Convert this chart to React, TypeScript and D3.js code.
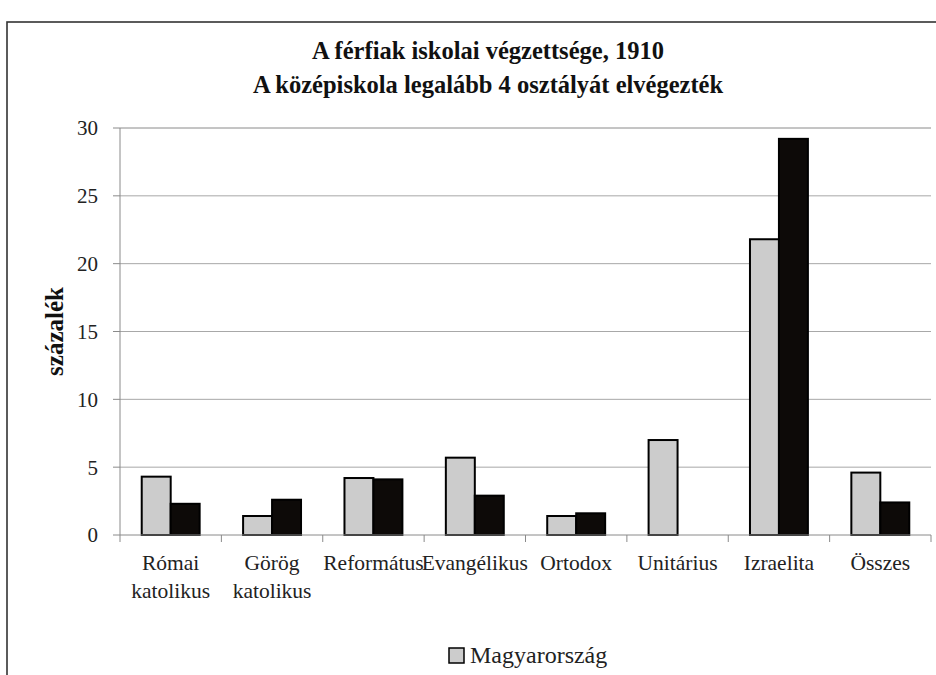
import * as d3 from "d3";

const WIDTH = 936;
const HEIGHT = 675;
const PLOT = { left: 120, right: 931, top: 128, bottom: 535 };

const categories = [
  ["Római", "katolikus"],
  ["Görög", "katolikus"],
  ["Református"],
  ["Evangélikus"],
  ["Ortodox"],
  ["Unitárius"],
  ["Izraelita"],
  ["Összes"],
];
const magyarorszag = [4.3, 1.4, 4.2, 5.7, 1.4, 7.0, 21.8, 4.6];
const budapest = [2.3, 2.6, 4.1, 2.9, 1.6, null, 29.2, 2.4];
const yTicks = [0, 5, 10, 15, 20, 25, 30];
const seriesNames = ["Magyarország", "Budapest"];

const SERIF = "'Liberation Serif', 'DejaVu Serif', serif";

export default function App() {
  const keys = categories.map((c) => c.join(" "));
  const x = d3.scaleBand().domain(keys).range([PLOT.left, PLOT.right]).paddingInner(0).paddingOuter(0);
  // Excel-like gap: bars take ~57% of each category slot
  const inner = d3.scaleBand().domain(seriesNames).range([0, x.bandwidth()]).paddingInner(0).paddingOuter(0.75);
  const y = d3.scaleLinear().domain([0, 30]).range([PLOT.bottom, PLOT.top]);

  const series = [
    { name: seriesNames[0], values: magyarorszag, fill: "#cccccc" },
    { name: seriesNames[1], values: budapest, fill: "#0d0a08" },
  ];

  return (
    <svg
      width={WIDTH}
      height={HEIGHT}
      style={{ position: "absolute", left: 0, top: 0, background: "#fff" }}
      fontFamily={SERIF}
    >
      <rect x={7} y={22} width={WIDTH + 10} height={HEIGHT + 10} fill="#fff" stroke="#333" strokeWidth={1.6} />

      <text x={488} y={59} textAnchor="middle" fontWeight="bold" fontSize={24.5} fill="#111">
        A férfiak iskolai végzettsége, 1910
      </text>
      <text x={488} y={93} textAnchor="middle" fontWeight="bold" fontSize={24.5} fill="#111">
        A középiskola legalább 4 osztályát elvégezték
      </text>

      <g>
        {yTicks.map((t) => (
          <g key={t}>
            {t > 0 && (
              <line x1={PLOT.left} x2={PLOT.right} y1={y(t)} y2={y(t)} stroke={t === 30 ? "#8a8a8a" : "#a8a8a8"} strokeWidth={1} />
            )}
            <line x1={PLOT.left - 7} x2={PLOT.left} y1={y(t)} y2={y(t)} stroke="#8a8a8a" />
            <text x={98} y={y(t)} dy="0.35em" textAnchor="end" fontSize={21} fill="#222">
              {t}
            </text>
          </g>
        ))}
        <line x1={PLOT.left} x2={PLOT.left} y1={PLOT.top} y2={PLOT.bottom} stroke="#8a8a8a" />
      </g>

      <text
        transform={`translate(54, ${(PLOT.top + PLOT.bottom) / 2}) rotate(-90)`}
        dy="0.35em"
        textAnchor="middle"
        fontWeight="bold"
        fontSize={25}
        fill="#111"
      >
        százalék
      </text>

      <g>
        {categories.map((c, i) => {
          const x0 = x(keys[i]) as number;
          return series.map((s) => {
            const v = s.values[i];
            if (v == null) return null;
            return (
              <rect
                key={s.name + i}
                x={x0 + (inner(s.name) as number)}
                y={y(v)}
                width={inner.bandwidth()}
                height={y(0) - y(v)}
                fill={s.fill}
                stroke="#000"
                strokeWidth={2}
              />
            );
          });
        })}
      </g>

      <g>
        <line x1={PLOT.left} x2={PLOT.right} y1={PLOT.bottom} y2={PLOT.bottom} stroke="#8a8a8a" />
        {[...keys.map((k) => x(k) as number), PLOT.right].map((tx, i) => (
          <line key={i} x1={tx} x2={tx} y1={PLOT.bottom} y2={PLOT.bottom + 7} stroke="#8a8a8a" />
        ))}
        {categories.map((c, i) => (
          <text key={i} x={(x(keys[i]) as number) + x.bandwidth() / 2} y={570} textAnchor="middle" fontSize={21.5} fill="#222">
            {c.map((line, j) => (
              <tspan key={j} x={(x(keys[i]) as number) + x.bandwidth() / 2} dy={j === 0 ? 0 : 28}>
                {line}
              </tspan>
            ))}
          </text>
        ))}
      </g>

      <g>
        <rect x={449} y={648} width={15} height={15} fill="#cccccc" stroke="#000" strokeWidth={1.5} />
        <text x={470} y={663} fontSize={24} fill="#222">
          {seriesNames[0]}
        </text>
      </g>
    </svg>
  );
}
